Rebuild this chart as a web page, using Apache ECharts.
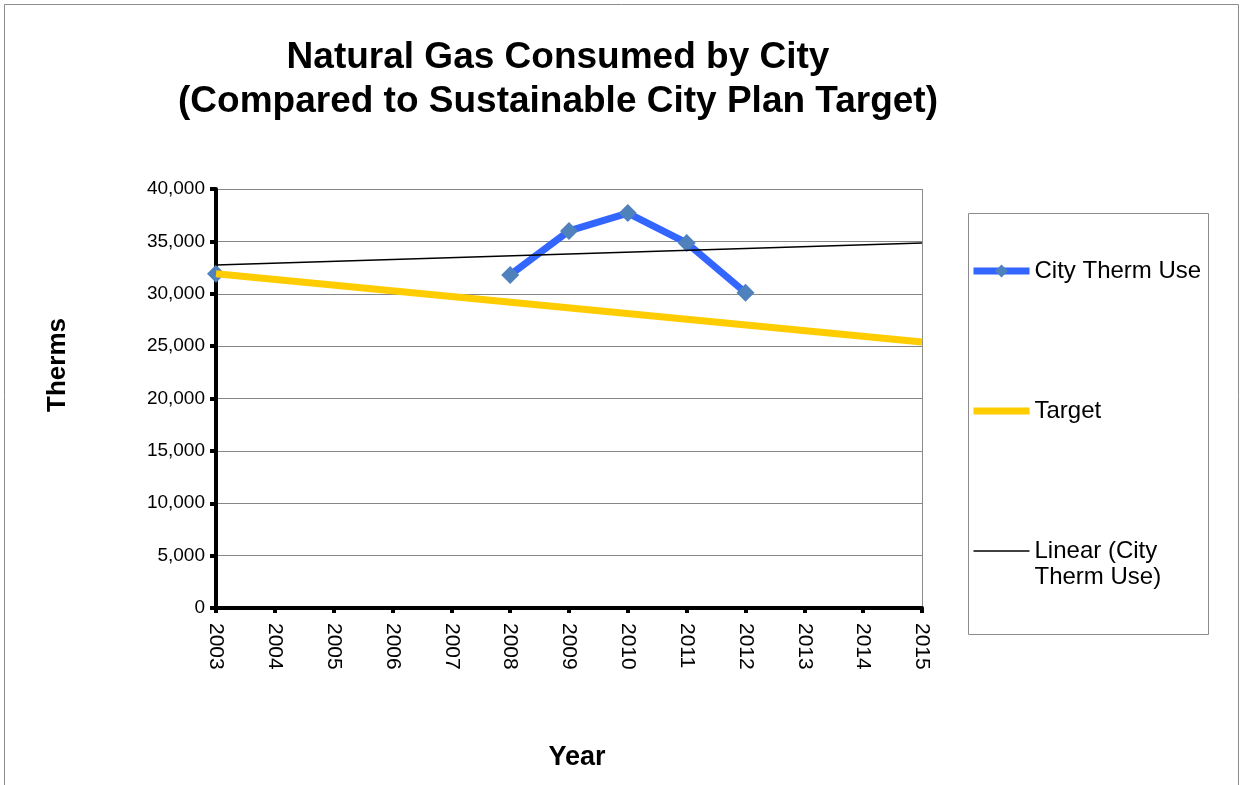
<!DOCTYPE html>
<html>
<head>
<meta charset="utf-8">
<script src="https://cdn.jsdelivr.net/npm/echarts@6/dist/echarts.min.js"></script>
<style>
  html, body { margin: 0; padding: 0; background: #fff; }
  #chart { width: 1244px; height: 785px; }
</style>
</head>
<body>
<div id="chart"></div>
<script>
var years = ['2003','2004','2005','2006','2007','2008','2009','2010','2011','2012','2013','2014','2015'];
var cityUse = [31900, null, null, null, null, 31800, 36000, 37700, 34850, 30100, null, null, null];
var target  = [31900, null, null, null, null, null, null, null, null, null, null, null, 25400];
var trend   = [32750, null, null, null, null, null, null, null, null, null, null, null, 34850];

var chart = echarts.init(document.getElementById('chart'));
var font = 'Liberation Sans, Arial, sans-serif';

var option = {
    animation: false,
    backgroundColor: '#fff',
    textStyle: { fontFamily: font },
    title: {
        text: 'Natural Gas Consumed by City\n(Compared to Sustainable City Plan Target)',
        left: 553,
        textAlign: 'center',
        top: 31,
        textStyle: { fontSize: 37, fontWeight: 'bold', color: '#000', lineHeight: 44, fontFamily: font }
    },
    graphic: [
        { type: 'rect', shape: { x: 4.5, y: 4.5, width: 1234, height: 820 },
          style: { fill: 'none', stroke: '#8c8c8c', lineWidth: 1 }, silent: true },
        { type: 'rect', shape: { x: 968.5, y: 213.5, width: 240, height: 421 },
          style: { fill: 'none', stroke: '#8c8c8c', lineWidth: 1 }, silent: true, z: -1 },
        { type: 'line', shape: { x1: 922.5, y1: 189, x2: 922.5, y2: 608 },
          style: { stroke: '#8c8c8c', lineWidth: 1 }, silent: true },
        { type: 'text', x: 58, y: 365, rotation: Math.PI / 2,
          style: { text: 'Therms', font: 'bold 26px ' + font, fill: '#000', align: 'center', verticalAlign: 'middle' } },
        { type: 'text', x: 577, y: 758,
          style: { text: 'Year', font: 'bold 27px ' + font, fill: '#000', align: 'center', verticalAlign: 'middle' } }
    ],
    legend: {
        orient: 'vertical',
        left: 970,
        top: 232,
        padding: 0,
        itemWidth: 56,
        itemHeight: 16,
        itemGap: 62,
        lineStyle: { width: 'inherit' },
        textStyle: { fontSize: 24, lineHeight: 26, color: '#000', fontFamily: font },
        // keep each entry three lines tall so the icon sits on the first text line
        formatter: function (name) {
            return name.indexOf('\n') >= 0 ? ' \n' + name : ' \n' + name + '\n ';
        },
        data: [
            { name: 'City Therm Use' },
            { name: 'Target', itemStyle: { opacity: 0 } },
            { name: 'Linear (City\nTherm Use)', itemStyle: { opacity: 0 } }
        ]
    },
    grid: { left: 216, right: 322, top: 189, bottom: 177 },
    xAxis: {
        type: 'category',
        data: years,
        boundaryGap: false,
        axisLine: { lineStyle: { color: '#000', width: 4 } },
        axisTick: { show: true, length: 5, lineStyle: { color: '#000', width: 4 } },
        axisLabel: { rotate: -90, fontSize: 21, color: '#000', margin: 15, interval: 0 },
        splitLine: { show: false }
    },
    yAxis: {
        type: 'value',
        min: 0,
        max: 40000,
        interval: 5000,
        axisLine: { show: true, lineStyle: { color: '#000', width: 4 } },
        axisTick: { show: true, length: 6, lineStyle: { color: '#000', width: 4 } },
        axisLabel: {
            fontSize: 19, color: '#000', margin: 11,
            formatter: function (v) { return v.toLocaleString('en-US'); }
        },
        splitLine: { show: true, lineStyle: { color: '#868686', width: 1 } }
    },
    series: [
        {
            name: 'City Therm Use',
            type: 'line',
            data: cityUse,
            connectNulls: false,
            clip: false,
            symbol: 'diamond',
            symbolSize: 18,
            showAllSymbol: true,
            lineStyle: { color: '#3366ff', width: 7 },
            itemStyle: { color: '#4f81bd' },
            z: 2
        },
        {
            name: 'Target',
            type: 'line',
            data: target,
            connectNulls: true,
            clip: false,
            showSymbol: false,
            symbol: 'none',
            lineStyle: { color: '#ffcc00', width: 7 },
            itemStyle: { color: '#ffcc00' },
            z: 3
        },
        {
            name: 'Linear (City\nTherm Use)',
            type: 'line',
            data: trend,
            connectNulls: true,
            showSymbol: false,
            symbol: 'none',
            lineStyle: { color: '#000', width: 1.5 },
            itemStyle: { color: '#000' },
            z: 4
        }
    ]
};

chart.setOption(option);
window.onresize = function () { chart.resize(); };
</script>
</body>
</html>
